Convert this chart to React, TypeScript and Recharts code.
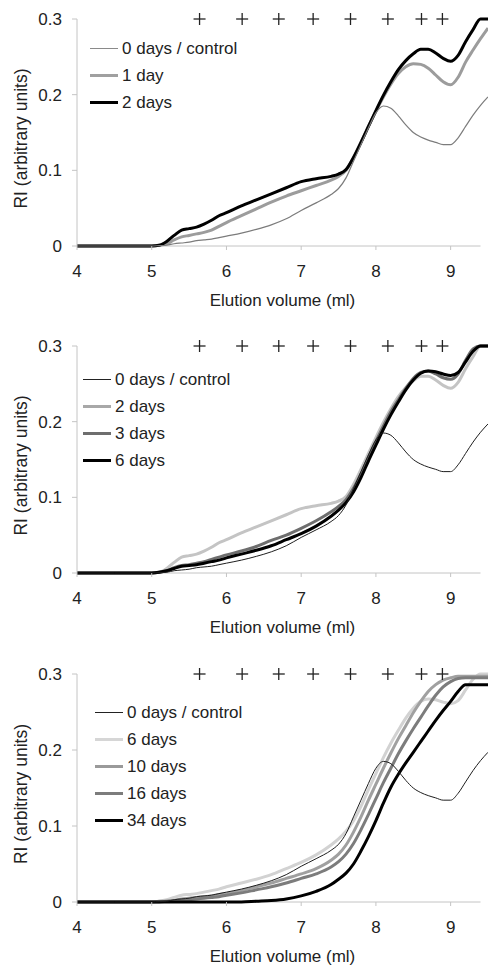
import React from 'react';
import { ComposedChart, Line, Scatter, XAxis, YAxis, Legend, ReferenceLine } from 'recharts';

const FONT = '"Liberation Sans", Arial, sans-serif';

// Elution volume (ml)
const volume = [4.0, 4.5, 5.0, 5.1, 5.2, 5.3, 5.4, 5.5, 5.6, 5.7, 5.8, 5.9, 6.0, 6.2, 6.4, 6.6, 6.8, 7.0, 7.2, 7.4, 7.5, 7.6, 7.7, 7.8, 7.9, 8.0, 8.1, 8.2, 8.3, 8.4, 8.5, 8.6, 8.7, 8.8, 8.9, 9.0, 9.1, 9.2, 9.3, 9.4, 9.5];

// RI (arbitrary units)
const control = [0, 0, 0, 0.0005, 0.001, 0.003, 0.004, 0.005, 0.007, 0.008, 0.009, 0.011, 0.013, 0.017, 0.022, 0.028, 0.036, 0.047, 0.057, 0.068, 0.076, 0.09, 0.112, 0.134, 0.156, 0.176, 0.185, 0.182, 0.172, 0.16, 0.15, 0.144, 0.14, 0.137, 0.134, 0.134, 0.143, 0.158, 0.173, 0.186, 0.197];
const day1 = [0, 0, 0, 0.001, 0.003, 0.008, 0.012, 0.014, 0.016, 0.018, 0.021, 0.026, 0.031, 0.04, 0.049, 0.058, 0.066, 0.073, 0.08, 0.087, 0.092, 0.1, 0.117, 0.137, 0.158, 0.178, 0.197, 0.214, 0.228, 0.237, 0.241, 0.24, 0.235, 0.226, 0.217, 0.213, 0.223, 0.243, 0.259, 0.274, 0.288];
const days2 = [0, 0, 0, 0.001, 0.006, 0.014, 0.021, 0.023, 0.025, 0.029, 0.034, 0.04, 0.044, 0.053, 0.061, 0.069, 0.077, 0.085, 0.089, 0.092, 0.095, 0.101, 0.117, 0.137, 0.158, 0.179, 0.199, 0.217, 0.233, 0.245, 0.254, 0.26, 0.26, 0.255, 0.248, 0.244, 0.252, 0.27, 0.286, 0.3, 0.3];
const days3 = [0, 0, 0, 0.001, 0.003, 0.007, 0.01, 0.011, 0.013, 0.015, 0.018, 0.021, 0.024, 0.029, 0.035, 0.043, 0.05, 0.059, 0.069, 0.081, 0.088, 0.097, 0.112, 0.131, 0.153, 0.174, 0.194, 0.213, 0.229, 0.244, 0.257, 0.265, 0.267, 0.263, 0.258, 0.256, 0.263, 0.281, 0.296, 0.3, 0.3];
const days6 = [0, 0, 0, 0.001, 0.003, 0.006, 0.009, 0.01, 0.011, 0.013, 0.015, 0.017, 0.02, 0.025, 0.03, 0.036, 0.044, 0.052, 0.062, 0.075, 0.083, 0.093, 0.107, 0.126, 0.148, 0.169, 0.19, 0.209, 0.226, 0.242, 0.255, 0.264, 0.267, 0.266, 0.263, 0.261, 0.265, 0.279, 0.293, 0.3, 0.3];
const days10 = [0, 0, 0, 0.001, 0.001, 0.002, 0.004, 0.005, 0.006, 0.007, 0.008, 0.01, 0.011, 0.015, 0.02, 0.025, 0.031, 0.037, 0.044, 0.055, 0.063, 0.075, 0.092, 0.112, 0.134, 0.155, 0.176, 0.196, 0.215, 0.232, 0.249, 0.264, 0.277, 0.286, 0.292, 0.295, 0.297, 0.297, 0.297, 0.297, 0.297];
const days16 = [0, 0, 0, 0, 0.001, 0.002, 0.003, 0.003, 0.004, 0.005, 0.006, 0.007, 0.009, 0.012, 0.016, 0.02, 0.025, 0.031, 0.037, 0.046, 0.053, 0.063, 0.077, 0.095, 0.115, 0.136, 0.157, 0.176, 0.195, 0.212, 0.228, 0.243, 0.258, 0.272, 0.283, 0.29, 0.294, 0.295, 0.295, 0.295, 0.295];
const days34 = [0, 0, 0, 0, 0, 0, 0, 0, 0, 0, 0, 0, 0, 0, 0.001, 0.002, 0.004, 0.008, 0.014, 0.023, 0.03, 0.038, 0.05, 0.067, 0.086, 0.107, 0.13, 0.151, 0.168, 0.183, 0.197, 0.211, 0.225, 0.239, 0.252, 0.264, 0.277, 0.286, 0.286, 0.286, 0.286];

// calibration standards marked with "+"
const markerVolumes = [5.64, 6.21, 6.7, 7.16, 7.66, 8.16, 8.61, 8.89];
const markerLevel = 0.3;

const xTicks = [4, 5, 6, 7, 8, 9];
const yTicks = [0, 0.1, 0.2, 0.3];

const rows = volume.map((v, i) => ({
  v,
  control: control[i],
  day1: day1[i],
  days2: days2[i],
  days3: days3[i],
  days6: days6[i],
  days10: days10[i],
  days16: days16[i],
  days34: days34[i],
}));
const markers = markerVolumes.map((v) => ({ v, y: markerLevel }));

type S = { key: string; name: string; color: string; width: number; legendColor: string; legendWidth: number };

const panel1: S[] = [
  { key: 'control', name: '0 days / control', color: '#7c7c7c', width: 1.2, legendColor: '#8a8a8a', legendWidth: 1.6 },
  { key: 'day1', name: '1 day', color: '#9c9c9c', width: 3, legendColor: '#a0a0a0', legendWidth: 3.5 },
  { key: 'days2', name: '2 days', color: '#000000', width: 3, legendColor: '#000000', legendWidth: 3.5 },
];
const panel2: S[] = [
  { key: 'control', name: '0 days / control', color: '#1e1e1e', width: 1, legendColor: '#222222', legendWidth: 1.5 },
  { key: 'days2', name: '2 days', color: '#c4c4c4', width: 3, legendColor: '#a8a8a8', legendWidth: 3.5 },
  { key: 'days3', name: '3 days', color: '#6e6e6e', width: 3, legendColor: '#6e6e6e', legendWidth: 3.5 },
  { key: 'days6', name: '6 days', color: '#000000', width: 3, legendColor: '#000000', legendWidth: 3.5 },
];
const panel3: S[] = [
  { key: 'control', name: '0 days / control', color: '#1e1e1e', width: 1, legendColor: '#222222', legendWidth: 1.5 },
  { key: 'days6', name: '6 days', color: '#d2d2d2', width: 3, legendColor: '#d6d6d6', legendWidth: 3.5 },
  { key: 'days10', name: '10 days', color: '#a0a0a0', width: 3, legendColor: '#9a9a9a', legendWidth: 3.5 },
  { key: 'days16', name: '16 days', color: '#7c7c7c', width: 3, legendColor: '#7c7c7c', legendWidth: 3.5 },
  { key: 'days34', name: '34 days', color: '#000000', width: 3, legendColor: '#000000', legendWidth: 3.5 },
];

const Plus = (props: any) => {
  const { cx, cy } = props;
  if (cx == null || cy == null) return null;
  return (
    <g>
      <line x1={cx - 6} x2={cx + 6} y1={cy} y2={cy} stroke="#222" strokeWidth={1.3} />
      <line x1={cx} x2={cx} y1={cy - 6} y2={cy + 6} stroke="#222" strokeWidth={1.3} />
    </g>
  );
};

const YLabel = (props: any) => {
  const vb = props.viewBox || { x: 0, y: 19, width: 77, height: 227 };
  const cx = vb.x + 21;
  const cy = vb.y + vb.height / 2 + 6;
  return (
    <text
      x={cx}
      y={cy}
      transform={`rotate(-90, ${cx}, ${cy})`}
      textAnchor="middle"
      dominantBaseline="central"
      fill="#222"
      fontSize={17.5}
      fontFamily={FONT}
    >
      RI (arbitrary units)
    </text>
  );
};

const LegendBox = ({ series }: { series: S[] }) => (
  <div style={{ fontFamily: FONT, fontSize: 17, color: '#222' }}>
    {series.map((s) => (
      <div key={s.key} style={{ display: 'flex', alignItems: 'center', height: 27 }}>
        <div style={{ width: 28, height: s.legendWidth, background: s.legendColor, marginRight: 4 }} />
        <span style={{ lineHeight: '27px', whiteSpace: 'nowrap' }}>{s.name}</span>
      </div>
    ))}
  </div>
);

const Panel = ({ height, bottom, series, legendLeft, legendTop }: { height: number; bottom: number; series: S[]; legendLeft: number; legendTop: number }) => {
  const drawOrder = [...series.slice(1), series[0]];
  return (
    <ComposedChart width={488} height={height} data={rows} margin={{ top: 19, right: 0, left: 0, bottom }}>
      <XAxis
        type="number"
        dataKey="v"
        domain={[4, 9.5]}
        ticks={xTicks}
        axisLine={false}
        tickLine={{ stroke: '#c4c4c4' }}
        tickSize={4}
        tickMargin={15}
        height={60}
        tick={{ fill: '#222', fontSize: 17, fontFamily: FONT }}
        label={{ value: 'Elution volume (ml)', position: 'insideBottom', offset: 0, fill: '#222', fontSize: 17, fontFamily: FONT }}
      />
      <YAxis
        type="number"
        domain={[0, 0.3]}
        ticks={yTicks}
        width={77}
        axisLine={{ stroke: '#c4c4c4' }}
        tickLine={{ stroke: '#c4c4c4' }}
        tickSize={5}
        tickMargin={10}
        tick={{ fill: '#222', fontSize: 17, fontFamily: FONT }}
        label={(p: any) => <YLabel {...p} />}
      />
      <ReferenceLine segment={[{ x: 4, y: 0 }, { x: 9.4, y: 0 }]} stroke="#c4c4c4" strokeWidth={1} ifOverflow="visible" />
      {drawOrder.map((s) => (
        <Line
          key={s.key}
          type="monotone"
          dataKey={s.key}
          stroke={s.color}
          strokeWidth={s.width}
          dot={false}
          activeDot={false}
          isAnimationActive={false}
        />
      ))}
      <Scatter data={markers} dataKey="y" shape={Plus} isAnimationActive={false} />
      <Legend
        layout="vertical"
        align="center"
        verticalAlign="middle"
        wrapperStyle={{ left: legendLeft, top: legendTop, width: 260 }}
        content={() => <LegendBox series={series} />}
      />
    </ComposedChart>
  );
};

export default function App() {
  return (
    <div style={{ position: 'absolute', left: 0, top: 0, width: 488, height: 965, background: '#fff' }}>
      <Panel height={327} bottom={21} series={panel1} legendLeft={90} legendTop={35} />
      <Panel height={328} bottom={22} series={panel2} legendLeft={83} legendTop={39} />
      <Panel height={310} bottom={3} series={panel3} legendLeft={95} legendTop={44} />
    </div>
  );
}
